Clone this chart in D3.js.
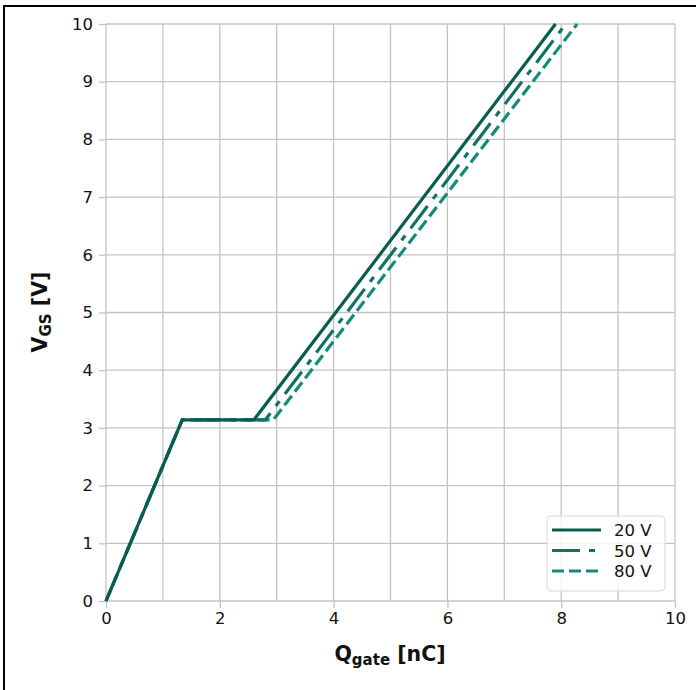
<!DOCTYPE html>
<html><head><meta charset="utf-8">
<script src="https://cdn.jsdelivr.net/npm/d3@7"></script>
<style>body{margin:0;background:#fff}svg{display:block}text{font-family:"DejaVu Sans",sans-serif}</style>
</head><body><svg id="c" width="696" height="690"></svg>
<script>
const seriesNames = ["20 V", "50 V", "80 V"];
const seriesColors = ["#0a5c50", "#0f7364", "#168a7a"];
const seriesDash = [null, "28,9,6,9", "12,5"];
const q20 = [0, 1.34, 2.6, 7.9];
const v20 = [0, 3.14, 3.14, 10];
const q50 = [0, 1.34, 2.8, 8.08];
const v50 = [0, 3.14, 3.14, 10];
const q80 = [0, 1.34, 2.94, 8.28];
const v80 = [0, 3.14, 3.14, 10];
const xTicks = [0, 2, 4, 6, 8, 10];
const xGrid = [0,1,2,3,4,5,6,7,8,9,10];
const yTicks = [0,1,2,3,4,5,6,7,8,9,10];

const svg = d3.select("#c");
const x = d3.scaleLinear().domain([0,10]).range([106,675]);
const y = d3.scaleLinear().domain([0,10]).range([601,24]);
const gridColor = "#c4c4c4";

svg.append("line").attr("x1",3).attr("x2",696).attr("y1",6).attr("y2",6).attr("stroke","#000").attr("stroke-width",2);
svg.append("line").attr("x1",4).attr("x2",4).attr("y1",5).attr("y2",690).attr("stroke","#000").attr("stroke-width",2);

svg.append("g").selectAll("line").data(xGrid).join("line")
  .attr("x1",d=>x(d)).attr("x2",d=>x(d)).attr("y1",y(0)).attr("y2",y(10))
  .attr("stroke",gridColor).attr("stroke-width",1.3);
svg.append("g").selectAll("line").data(yTicks).join("line")
  .attr("x1",x(0)).attr("x2",x(10)).attr("y1",d=>y(d)).attr("y2",d=>y(d))
  .attr("stroke",gridColor).attr("stroke-width",1.3);

const xAxis = svg.append("g").attr("transform",`translate(0,${y(0)})`)
  .call(d3.axisBottom(x).tickValues(xTicks).tickSize(7).tickPadding(4).tickFormat(d3.format("d")));
const yAxis = svg.append("g").attr("transform",`translate(${x(0)},0)`)
  .call(d3.axisLeft(y).tickValues(yTicks).tickSize(7).tickPadding(6).tickFormat(d3.format("d")));
[xAxis,yAxis].forEach(a=>{
  a.select(".domain").remove();
  a.selectAll(".tick line").attr("stroke",gridColor).attr("stroke-width",1.3);
  a.selectAll(".tick text").attr("font-size",16.5).attr("fill","#111").attr("font-family","DejaVu Sans");
});

const xl = svg.append("text").attr("x",390).attr("y",661).attr("text-anchor","middle")
  .attr("font-size",20.5).attr("font-weight","bold").attr("fill","#111");
xl.append("tspan").text("Q");
xl.append("tspan").attr("font-size",15).attr("dy",4).text("gate");
xl.append("tspan").attr("dy",-4).text(" [nC]");
const yl = svg.append("text").attr("transform","translate(47,312) rotate(-90)").attr("text-anchor","middle")
  .attr("font-size",20.5).attr("font-weight","bold").attr("fill","#111");
yl.append("tspan").text("V");
yl.append("tspan").attr("font-size",15).attr("dy",4).text("GS");
yl.append("tspan").attr("dy",-4).text(" [V]");

const data = [[q20,v20],[q50,v50],[q80,v80]];
const line = d3.line().x(d=>x(d[0])).y(d=>y(d[1]));
[2,1,0].forEach(i=>{
  const pts = data[i][0].map((q,k)=>[q,data[i][1][k]]);
  svg.append("path").attr("d",line(pts)).attr("fill","none")
    .attr("stroke",seriesColors[i]).attr("stroke-width",3.2)
    .attr("stroke-dasharray",seriesDash[i]);
});

const lg = svg.append("g");
lg.append("rect").attr("x",547).attr("y",516).attr("width",118).attr("height",75).attr("rx",4)
  .attr("fill","#fff").attr("fill-opacity",0.8).attr("stroke","#d8d8d8").attr("stroke-width",1);
seriesNames.forEach((n,i)=>{
  const yy = 530 + i*20.5;
  lg.append("line").attr("x1",552).attr("x2",601).attr("y1",yy).attr("y2",yy)
    .attr("stroke",seriesColors[i]).attr("stroke-width",3.2).attr("stroke-dasharray",seriesDash[i]);
  lg.append("text").attr("x",614).attr("y",yy+6).attr("font-size",16.5).attr("fill","#111").text(n);
});
</script></body></html>
